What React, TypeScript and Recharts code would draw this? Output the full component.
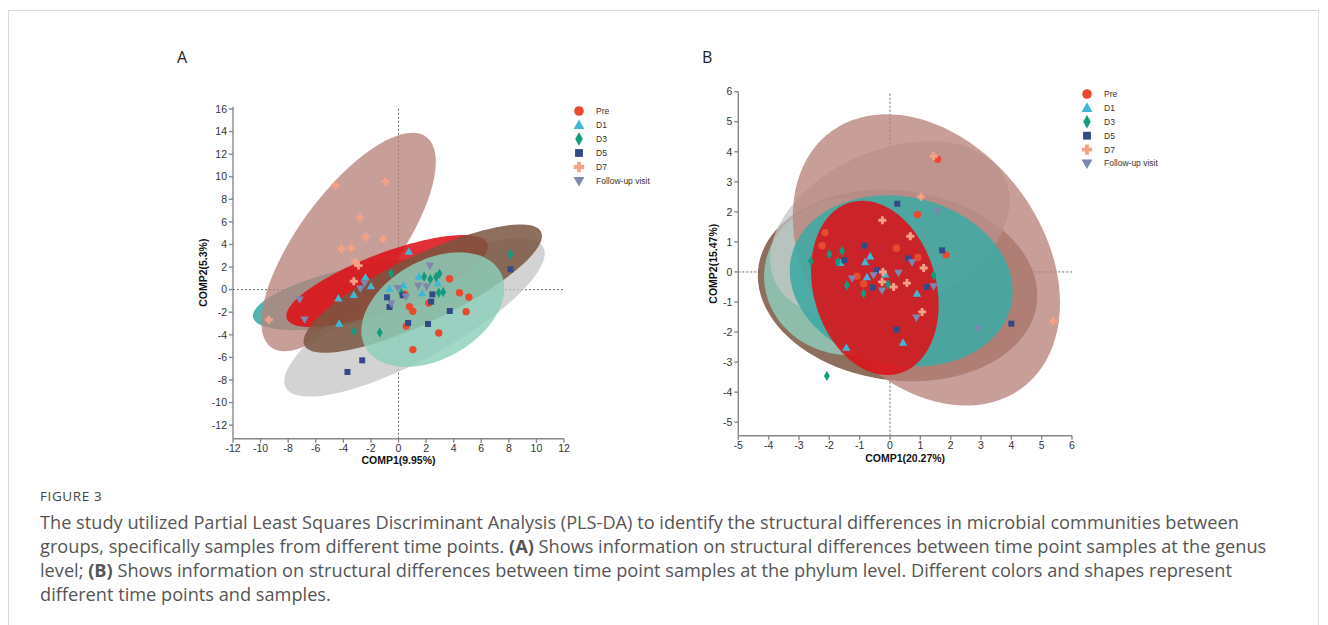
import React from 'react'
import { ScatterChart, Scatter, XAxis, YAxis, ReferenceLine, Curve } from 'recharts'

// ---- panel A (genus level) sample scores ----
const preA = [[3.7, 0.97], [4.42, -0.27], [5.1, -0.68], [4.9, -1.95], [2.92, -3.84], [1.04, -5.31], [0.8, -1.5], [1.04, -1.92], [2.2, -1.18], [0.56, -3.23], [0.45, -0.4]]
const d1A = [[0.75, 3.37], [-2.4, 1.1], [-2.0, 0.3], [-3.24, -0.46], [-4.36, -0.77], [-4.3, -3.01], [-0.65, 0.09], [0.36, 0.38], [1.47, 1.15], [1.71, -0.32], [2.84, 0.58]]
const d3A = [[-0.53, 1.42], [-3.24, -3.68], [-1.36, -3.8], [1.86, 1.15], [2.31, 0.93], [2.73, 1.12], [2.97, 1.42], [2.92, -0.28], [3.24, -0.21], [8.12, 3.13], [0.2, -0.3]]
const d5A = [[8.12, 1.8], [-0.83, -0.68], [-0.65, -1.54], [0.7, -2.95], [2.14, -3.04], [3.72, -1.89], [2.46, -0.42], [2.37, -1.06], [-2.63, -6.26], [-3.7, -7.29], [0.3, -0.5]]
const d7A = [[-4.58, 9.24], [-0.94, 9.58], [-2.79, 6.35], [-2.37, 4.66], [-1.13, 4.49], [-4.12, 3.63], [-3.42, 3.66], [-3.14, 2.45], [-2.9, 2.13], [-3.24, 0.74], [-9.4, -2.66]]
const fuA = [[-7.17, -0.88], [-6.81, -2.65], [-2.77, 0.09], [-2.46, 0.56], [-0.53, -1.22], [-0.05, 0.14], [0.54, -0.62], [2.28, 2.12], [1.44, 0.34], [2.04, 0.26]]

// ---- panel B (phylum level) sample scores ----
const preB = [[-2.14, 1.31], [-2.24, 0.87], [0.21, 0.79], [1.57, 3.75], [0.91, 1.91], [0.92, 0.48], [1.85, 0.57], [-1.09, -0.14], [-0.87, -0.39]]
const d1B = [[-0.65, 0.52], [-0.82, 0.33], [-1.64, 0.3], [-0.76, -0.17], [-0.16, -0.08], [0.89, -0.72], [0.43, -2.35], [-1.44, -2.52]]
const d3B = [[-2.61, 0.36], [-2.0, 0.59], [-1.58, 0.7], [-1.72, 0.33], [-1.42, -0.44], [-0.87, -0.72], [-0.07, -0.41], [1.44, -0.11], [-2.08, -3.46]]
const d5B = [[-0.84, 0.87], [-1.5, 0.39], [0.24, 2.27], [0.61, 0.45], [1.72, 0.72], [1.22, -0.5], [0.22, -1.92], [4.0, -1.72], [-0.56, -0.52], [-0.43, 0.06]]
const d7B = [[-0.25, 1.72], [1.44, 3.85], [1.02, 2.5], [0.67, 1.19], [1.11, 0.13], [-0.23, 0], [0.56, -0.37], [0.12, -0.5], [1.06, -1.33], [5.38, -1.64], [-0.26, -0.33]]
const fuB = [[1.55, 2.02], [0.73, 0.32], [0.28, -0.03], [1.44, -0.48], [-0.26, -0.62], [0.87, -1.52], [2.9, -1.88], [-1.25, -0.22], [-0.54, -0.11]]

// ---- confidence ellipses: centre, major and minor semi-axis vectors (data units) ----
const ellipseKeysA = ['teal', 'rosy', 'gray', 'red', 'brown', 'mint']
const centersA = [[-2.75, -0.42], [-3.62, 4.22], [1.16, -2.45], [-0.82, 0.76], [1.76, 0.09], [2.49, -1.77]]
const majorA = [[7.8, 2.03], [5.62, 9.32], [9.33, 6.23], [7.28, 3.33], [8.58, 5.02], [4.88, 3.36]]
const minorA = [[0.42, -2.43], [2.9, -2.6], [1.45, -3.24], [0.72, -2.35], [1.04, -2.66], [1.75, -3.8]]

const ellipseKeysB = ['brown', 'mint', 'gray', 'rosy', 'teal', 'red']
const centersB = [[0.25, -0.45], [-1.3, -0.15], [0.0, 1.4], [1.2, 0.4], [0.37, -0.3], [-0.5, -0.53]]
const majorB = [[4.6, -0.5], [2.85, 0], [3.8, 1.69], [3.12, -4.29], [3.62, -0.82], [0.79, -2.85]]
const minorB = [[0.25, 3.15], [0, 2.62], [-1.08, 2.42], [3.11, 2.26], [0.62, 2.73], [1.95, 0.54]]

const groups = ['Pre', 'D1', 'D3', 'D5', 'D7', 'Follow-up visit']
const ticksA_x = [-12, -10, -8, -6, -4, -2, 0, 2, 4, 6, 8, 10, 12]
const ticksA_y = [-12, -10, -8, -6, -4, -2, 0, 2, 4, 6, 8, 10, 12, 14, 16]
const ticksB_x = [-5, -4, -3, -2, -1, 0, 1, 2, 3, 4, 5, 6]
const ticksB_y = [-5, -4, -3, -2, -1, 0, 1, 2, 3, 4, 5, 6]

const markerStyle: Record<string, { kind: string; color: string }> = {
  'Pre': { kind: 'circle', color: '#e9492f' },
  'D1': { kind: 'triangle', color: '#3fb8d6' },
  'D3': { kind: 'diamond', color: '#139b7e' },
  'D5': { kind: 'square', color: '#344a88' },
  'D7': { kind: 'cross', color: '#f5a185' },
  'Follow-up visit': { kind: 'down', color: '#7c88b0' },
}

const ellipseStyle: Record<string, { fill: string; opacity: number }> = {
  teal: { fill: '#3eaaa3', opacity: 0.88 },
  rosy: { fill: '#b8837c', opacity: 0.78 },
  gray: { fill: '#c4c4c4', opacity: 0.75 },
  red: { fill: '#dc1219', opacity: 0.88 },
  brown: { fill: '#7a5641', opacity: 0.85 },
  mint: { fill: '#8ed0bc', opacity: 0.82 },
}

const toPoints = (arr: number[][]) => arr.map(([x, y]) => ({ x, y }))

// outline of an ellipse given centre and semi-axis vectors
const ellipseOutline = (c: number[], u: number[], v: number[]) => {
  const pts = []
  for (let i = 0; i < 96; i++) {
    const t = (i / 96) * Math.PI * 2
    pts.push({ x: c[0] + u[0] * Math.cos(t) + v[0] * Math.sin(t), y: c[1] + u[1] * Math.cos(t) + v[1] * Math.sin(t) })
  }
  return pts
}

function Marker({ kind, cx, cy, color, s = 1 }: { kind: string; cx: number; cy: number; color: string; s?: number }) {
  if (cx == null || cy == null) return <g />
  switch (kind) {
    case 'circle':
      return <circle cx={cx} cy={cy} r={3.7 * s} fill={color} />
    case 'triangle': {
      const w = 4.2 * s, h = 7.4 * s
      return <polygon points={`${cx},${cy - h * 0.58} ${cx - w},${cy + h * 0.42} ${cx + w},${cy + h * 0.42}`} fill={color} />
    }
    case 'down': {
      const w = 4.2 * s, h = 7.4 * s
      return <polygon points={`${cx},${cy + h * 0.58} ${cx - w},${cy - h * 0.42} ${cx + w},${cy - h * 0.42}`} fill={color} />
    }
    case 'diamond': {
      const w = 2.9 * s, h = 5.2 * s
      return <polygon points={`${cx},${cy - h} ${cx + w},${cy} ${cx},${cy + h} ${cx - w},${cy}`} fill={color} />
    }
    case 'square': {
      const a = 3 * s
      return <rect x={cx - a} y={cy - a} width={a * 2} height={a * 2} fill={color} />
    }
    case 'cross': {
      const a = 4 * s, b = 1.45 * s
      return (
        <path
          d={`M${cx - b},${cy - a}H${cx + b}V${cy - b}H${cx + a}V${cy + b}H${cx + b}V${cy + a}H${cx - b}V${cy + b}H${cx - a}V${cy - b}H${cx - b}Z`}
          fill={color}
        />
      )
    }
    default:
      return <g />
  }
}

function LegendBox({ left, top, gap }: { left: number; top: number; gap: number }) {
  return (
    <svg width={110} height={100} style={{ position: 'absolute', left, top }}>
      {groups.map((g, i) => (
        <g key={g}>
          <Marker kind={markerStyle[g].kind} cx={9} cy={10 + i * gap} color={markerStyle[g].color} s={1.3} />
          <text x={26} y={10 + i * gap} dy="0.35em" fontSize={8.5} fill="#333" fontFamily="Liberation Sans, Arial, sans-serif">
            {g}
          </text>
        </g>
      ))}
    </svg>
  )
}

const tickStyle = { fontSize: 10.5, fill: '#333', fontFamily: 'Liberation Sans, Arial, sans-serif' }
const axisLine = { stroke: '#888', strokeWidth: 1.4 }
const titleStyle = { fontSize: 10.5, fontWeight: 700, fill: '#111', fontFamily: 'Liberation Sans, Arial, sans-serif' }

function Panel(props: {
  width: number
  height: number
  margin: any
  xDomain: number[]
  yDomain: number[]
  xTicks: number[]
  yTicks: number[]
  yWidth: number
  xHeight: number
  xTitle: string
  yTitle: string
  keys: string[]
  centers: number[][]
  major: number[][]
  minor: number[][]
  series: number[][][]
}) {
  return (
    <ScatterChart width={props.width} height={props.height} margin={props.margin}>
      <XAxis
        type="number"
        dataKey="x"
        domain={props.xDomain}
        ticks={props.xTicks}
        interval={0}
        allowDataOverflow
        tick={tickStyle}
        tickSize={4}
        axisLine={axisLine}
        tickLine={axisLine}
        height={props.xHeight}
        label={{ value: props.xTitle, position: 'center', ...titleStyle }}
      />
      <YAxis
        type="number"
        dataKey="y"
        domain={props.yDomain}
        ticks={props.yTicks}
        interval={0}
        allowDataOverflow
        tick={tickStyle}
        tickSize={4}
        axisLine={axisLine}
        tickLine={axisLine}
        width={props.yWidth}
        label={{ value: props.yTitle, position: 'center', angle: -90, ...titleStyle }}
      />
      <ReferenceLine x={0} stroke="#666" strokeDasharray="2 2" />
      <ReferenceLine y={0} stroke="#666" strokeDasharray="2 2" />
      {props.keys.map((k, i) => (
        <Scatter
          key={'e' + k}
          data={ellipseOutline(props.centers[i], props.major[i], props.minor[i])}
          isAnimationActive={false}
          legendType="none"
          shape={() => <g />}
          line={(lp: any) => (
            <Curve points={lp.points} type="linearClosed" fill={ellipseStyle[k].fill} fillOpacity={ellipseStyle[k].opacity} stroke="none" />
          )}
        />
      ))}
      {groups.map((g, i) => (
        <Scatter
          key={g}
          name={g}
          data={toPoints(props.series[i])}
          isAnimationActive={false}
          shape={(p: any) => <Marker kind={markerStyle[g].kind} cx={p.cx} cy={p.cy} color={markerStyle[g].color} />}
        />
      ))}
    </ScatterChart>
  )
}

const captionStyle: React.CSSProperties = {
  position: 'absolute',
  left: 40,
  fontFamily: '"Open Sans", sans-serif',
  fontSize: 18.2,
  color: '#555',
  whiteSpace: 'nowrap',
  lineHeight: '24px',
}

export default function App() {
  return (
    <div style={{ position: 'absolute', left: 0, top: 0, width: 1328, height: 625, overflow: 'hidden', background: '#fff' }}>
      <div style={{ position: 'absolute', left: 8, top: 10, width: 1311, height: 700, border: '1px solid #dcdcdc', boxSizing: 'border-box' }} />
      <div style={{ position: 'absolute', left: 177, top: 46, fontSize: 16, color: '#222', fontFamily: '"Open Sans", sans-serif' }}>A</div>
      <div style={{ position: 'absolute', left: 702, top: 46, fontSize: 16, color: '#222', fontFamily: '"Open Sans", sans-serif' }}>B</div>

      <div style={{ position: 'absolute', left: 150, top: 60 }}>
        <Panel
          width={530}
          height={430}
          margin={{ top: 46.7, right: 116, bottom: 7.3, left: 23 }}
          xDomain={[-12, 12]}
          yDomain={[-13.2, 16.2]}
          xTicks={ticksA_x}
          yTicks={ticksA_y}
          yWidth={60}
          xHeight={44}
          xTitle="COMP1(9.95%)"
          yTitle="COMP2(5.3%)"
          keys={ellipseKeysA}
          centers={centersA}
          major={majorA}
          minor={minorA}
          series={[preA, d1A, d3A, d5A, d7A, fuA]}
        />
      </div>
      <LegendBox left={570} top={100.7} gap={14} />

      <div style={{ position: 'absolute', left: 660, top: 40 }}>
        <Panel
          width={520}
          height={450}
          margin={{ top: 51.7, right: 108, bottom: 9.3, left: 28.3 }}
          xDomain={[-5, 6]}
          yDomain={[-5.45, 6]}
          xTicks={ticksB_x}
          yTicks={ticksB_y}
          yWidth={50}
          xHeight={45}
          xTitle="COMP1(20.27%)"
          yTitle="COMP2(15.47%)"
          keys={ellipseKeysB}
          centers={centersB}
          major={majorB}
          minor={minorB}
          series={[preB, d1B, d3B, d5B, d7B, fuB]}
        />
      </div>
      <LegendBox left={1078} top={84.3} gap={13.9} />

      <div style={{ position: 'absolute', left: 40, top: 487, fontFamily: '"Open Sans", sans-serif', fontSize: 13.5, color: '#444', letterSpacing: 0.6 }}>
        FIGURE 3
      </div>
      <div style={{ ...captionStyle, top: 510 }}>
        The study utilized Partial Least Squares Discriminant Analysis (PLS-DA) to identify the structural differences in microbial communities between
      </div>
      <div style={{ ...captionStyle, top: 534 }}>
        groups, specifically samples from different time points. <b>(A)</b> Shows information on structural differences between time point samples at the genus
      </div>
      <div style={{ ...captionStyle, top: 558 }}>
        level; <b>(B)</b> Shows information on structural differences between time point samples at the phylum level. Different colors and shapes represent
      </div>
      <div style={{ ...captionStyle, top: 582 }}>different time points and samples.</div>
    </div>
  )
}
